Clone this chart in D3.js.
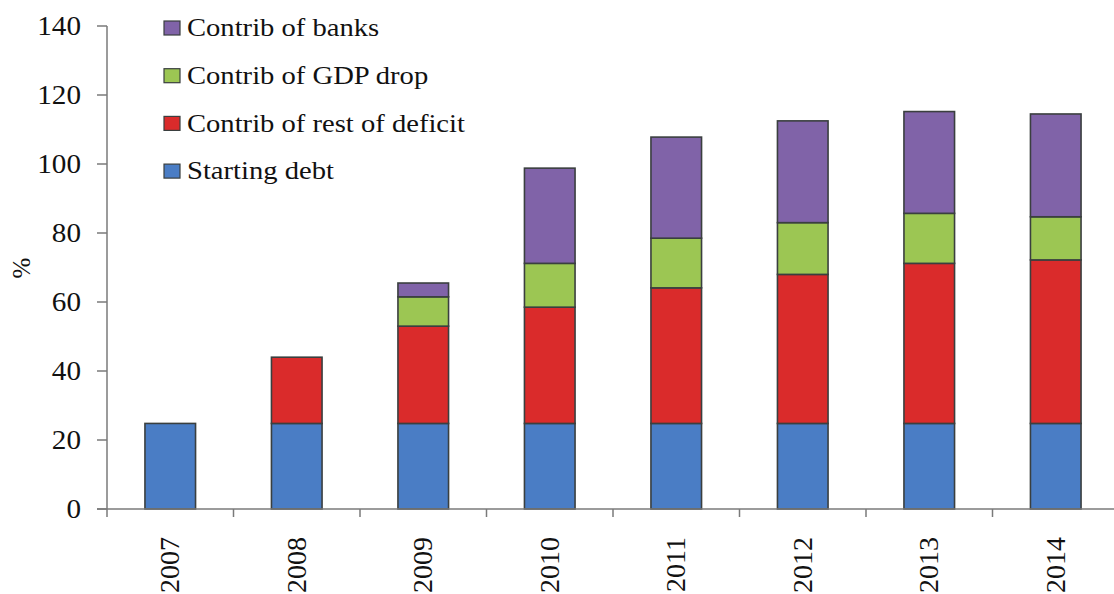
<!DOCTYPE html>
<html><head><meta charset="utf-8">
<script src="https://cdn.jsdelivr.net/npm/d3@7"></script>
<style>body{margin:0;background:#fff}svg{display:block}
svg text{font-family:"Liberation Serif","DejaVu Serif",serif;fill:#111}</style>
</head><body>
<script>
const years = ["2007","2008","2009","2010","2011","2012","2013","2014"];
const startingDebt = [24.8,24.8,24.8,24.8,24.8,24.8,24.8,24.8];
const restDeficit = [0,19.2,28.2,33.7,39.3,43.2,46.4,47.4];
const gdpDrop = [0,0,8.5,12.7,14.4,15.0,14.5,12.5];
const banks = [0,0,4.0,27.6,29.3,29.5,29.5,29.8];
const yTicks = [0,20,40,60,80,100,120,140];
const seriesNames = ["Starting debt","Contrib of rest of deficit","Contrib of GDP drop","Contrib of banks"];
const seriesColors = ["#4a7dc5","#da2b2b","#9cc653","#8063a8"];

const W=1114,H=594;
const svg=d3.select("body").append("svg").attr("width",W).attr("height",H);
const x=d3.scaleBand().domain(years).range([107,1119]).paddingInner(0.6).paddingOuter(0.3);
const xb=d3.scaleBand().domain(years).range([107,1119]);
const y=d3.scaleLinear().domain([0,140]).range([509,26]);

const rows=years.map((yr,i)=>({year:yr,s0:startingDebt[i],s1:restDeficit[i],s2:gdpDrop[i],s3:banks[i]}));
const stack=d3.stack().keys(["s0","s1","s2","s3"])(rows);

const g=svg.append("g");
stack.forEach((layer,k)=>{
  g.selectAll(null).data(layer.filter(d=>d[1]-d[0]>0)).enter().append("rect")
    .attr("x",d=>x(d.data.year)).attr("width",x.bandwidth())
    .attr("y",d=>y(d[1])).attr("height",d=>y(d[0])-y(d[1]))
    .attr("fill",seriesColors[k]).attr("stroke","#3a3f3f").attr("stroke-width",1.6);
});

const axc="#7a7a7a";
svg.append("line").attr("x1",107).attr("x2",107).attr("y1",y(140)).attr("y2",y(0)).attr("stroke",axc).attr("stroke-width",1.5);
yTicks.forEach(t=>{
  svg.append("line").attr("x1",97).attr("x2",107).attr("y1",y(t)).attr("y2",y(t)).attr("stroke",axc).attr("stroke-width",1.5);
  svg.append("text").attr("transform",`translate(81,${y(t)}) scale(1.08,1)`).attr("dy","0.35em").attr("text-anchor","end")
    .attr("font-size",27).text(t);
});
svg.append("line").attr("x1",97).attr("x2",1119).attr("y1",y(0)).attr("y2",y(0)).attr("stroke",axc).attr("stroke-width",1.5);
years.forEach(yr=>{
  const bx=xb(yr);
  svg.append("line").attr("x1",bx).attr("x2",bx).attr("y1",y(0)).attr("y2",y(0)+8).attr("stroke",axc).attr("stroke-width",1.5);
  const cx=x(yr)+x.bandwidth()/2;
  svg.append("text").attr("transform",`translate(${cx+9},537) rotate(-90)`).attr("text-anchor","end")
    .attr("font-size",28).text(yr);
});
svg.append("text").attr("transform","translate(30,268) rotate(-90)").attr("text-anchor","middle")
  .attr("font-size",25).text("%");

const legOrder=[3,2,1,0];
legOrder.forEach((k,i)=>{
  const ly=27+i*47.7;
  svg.append("rect").attr("x",164).attr("y",ly-6).attr("width",16).attr("height",14)
    .attr("fill",seriesColors[k]).attr("stroke","#3a3f3f").attr("stroke-width",1.2);
  svg.append("text").attr("transform",`translate(187,${ly}) scale(1.1,1)`).attr("dy","0.35em")
    .attr("font-size",26).text(seriesNames[k]);
});
</script>
</body></html>
